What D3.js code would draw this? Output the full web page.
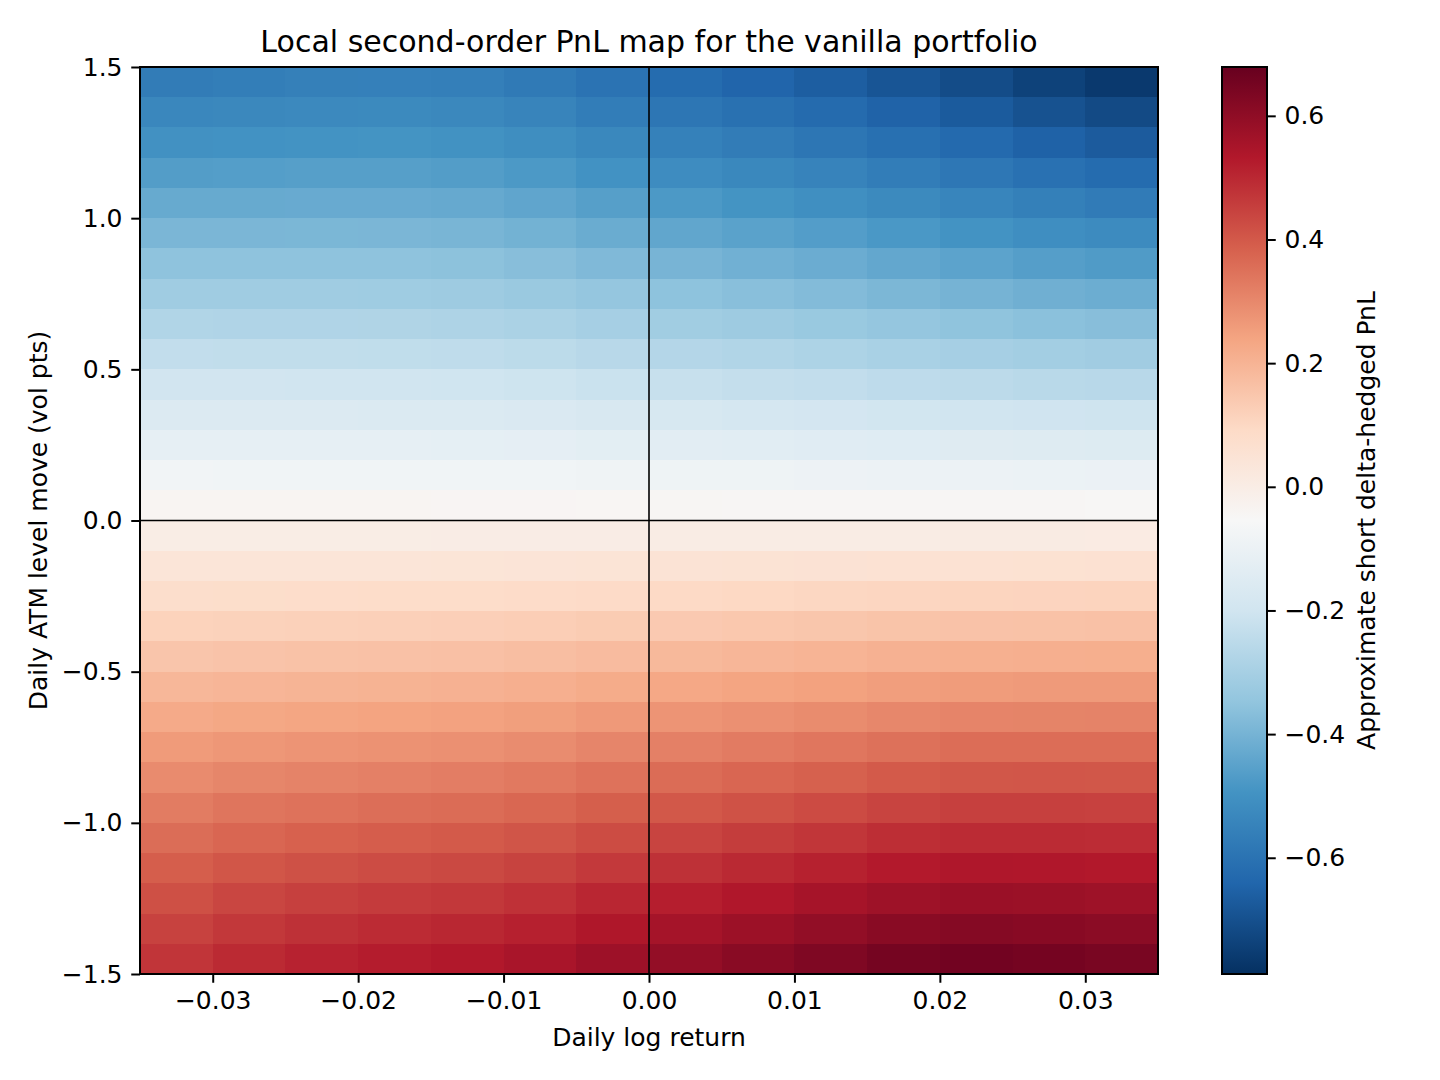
<!DOCTYPE html>
<html>
<head>
<meta charset="utf-8">
<script src="https://cdn.jsdelivr.net/npm/d3@7"></script>
<style>
    body { margin: 0; background: #fff; }
    svg { font-family: "DejaVu Sans", sans-serif; }
</style>
</head>
<body>
<svg></svg>
<script>
// Cell centres of the PnL grid.
var xCenters = [-0.0325, -0.0275, -0.0225, -0.0175, -0.0125, -0.0075, -0.0025,
                0.0025, 0.0075, 0.0125, 0.0175, 0.0225, 0.0275, 0.0325];
var yCenters = [1.45, 1.35, 1.25, 1.15, 1.05, 0.95, 0.85, 0.75, 0.65, 0.55,
                0.45, 0.35, 0.25, 0.15, 0.05, -0.05, -0.15, -0.25, -0.35, -0.45,
                -0.55, -0.65, -0.75, -0.85, -0.95, -1.05, -1.15, -1.25, -1.35, -1.45];
var cellWidth = 0.005;
var cellHeight = 0.1;

// Approximate short delta-hedged PnL, one row per yCenters entry (top to bottom).
var pnlRows = [
    [-0.569,-0.562,-0.557,-0.555,-0.560,-0.575,-0.599,-0.623,-0.643,-0.662,-0.687,-0.711,-0.739,-0.763],
    [-0.535,-0.530,-0.526,-0.525,-0.530,-0.544,-0.567,-0.589,-0.607,-0.626,-0.649,-0.671,-0.696,-0.717],
    [-0.500,-0.497,-0.494,-0.493,-0.498,-0.511,-0.532,-0.553,-0.570,-0.588,-0.609,-0.629,-0.651,-0.670],
    [-0.465,-0.463,-0.460,-0.460,-0.465,-0.477,-0.497,-0.516,-0.532,-0.548,-0.567,-0.585,-0.606,-0.622],
    [-0.428,-0.427,-0.426,-0.426,-0.430,-0.441,-0.460,-0.477,-0.492,-0.507,-0.525,-0.541,-0.558,-0.572],
    [-0.391,-0.391,-0.390,-0.391,-0.395,-0.405,-0.422,-0.438,-0.451,-0.464,-0.481,-0.495,-0.510,-0.522],
    [-0.353,-0.354,-0.353,-0.354,-0.358,-0.367,-0.382,-0.397,-0.409,-0.421,-0.435,-0.448,-0.461,-0.471],
    [-0.315,-0.316,-0.316,-0.317,-0.320,-0.329,-0.342,-0.355,-0.365,-0.376,-0.389,-0.400,-0.411,-0.419],
    [-0.276,-0.278,-0.278,-0.279,-0.282,-0.289,-0.301,-0.312,-0.321,-0.331,-0.342,-0.351,-0.360,-0.367],
    [-0.237,-0.239,-0.239,-0.240,-0.243,-0.249,-0.259,-0.268,-0.276,-0.284,-0.294,-0.301,-0.308,-0.314],
    [-0.198,-0.199,-0.200,-0.201,-0.203,-0.208,-0.217,-0.224,-0.231,-0.237,-0.245,-0.251,-0.256,-0.260],
    [-0.158,-0.160,-0.160,-0.161,-0.163,-0.167,-0.174,-0.179,-0.184,-0.190,-0.196,-0.200,-0.204,-0.207],
    [-0.119,-0.120,-0.121,-0.121,-0.123,-0.125,-0.130,-0.134,-0.138,-0.142,-0.146,-0.149,-0.152,-0.153],
    [-0.079,-0.080,-0.080,-0.081,-0.082,-0.083,-0.086,-0.089,-0.091,-0.093,-0.096,-0.097,-0.099,-0.100],
    [-0.040,-0.040,-0.040,-0.040,-0.041,-0.041,-0.042,-0.043,-0.044,-0.044,-0.045,-0.046,-0.046,-0.047],
    [0.000,0.000,0.000,0.000,0.001,0.001,0.002,0.003,0.004,0.004,0.005,0.006,0.006,0.007],
    [0.039,0.040,0.040,0.041,0.042,0.044,0.046,0.049,0.051,0.053,0.056,0.057,0.058,0.059],
    [0.077,0.079,0.080,0.082,0.083,0.086,0.090,0.094,0.098,0.102,0.106,0.109,0.110,0.111],
    [0.115,0.118,0.120,0.122,0.124,0.128,0.134,0.140,0.145,0.150,0.156,0.159,0.161,0.162],
    [0.152,0.157,0.160,0.162,0.165,0.170,0.178,0.185,0.192,0.198,0.205,0.210,0.212,0.213],
    [0.189,0.195,0.199,0.202,0.205,0.211,0.221,0.230,0.238,0.246,0.254,0.259,0.262,0.262],
    [0.225,0.232,0.237,0.241,0.245,0.252,0.264,0.274,0.283,0.293,0.303,0.308,0.310,0.311],
    [0.260,0.269,0.275,0.280,0.284,0.292,0.306,0.317,0.328,0.339,0.350,0.357,0.358,0.358],
    [0.294,0.305,0.312,0.317,0.323,0.332,0.347,0.360,0.372,0.384,0.397,0.404,0.405,0.404],
    [0.327,0.340,0.348,0.355,0.361,0.371,0.388,0.402,0.415,0.428,0.443,0.450,0.450,0.448],
    [0.359,0.373,0.383,0.391,0.398,0.409,0.427,0.442,0.457,0.472,0.487,0.494,0.494,0.491],
    [0.390,0.406,0.417,0.426,0.433,0.445,0.465,0.482,0.498,0.514,0.530,0.538,0.536,0.532],
    [0.419,0.438,0.450,0.460,0.468,0.481,0.503,0.520,0.537,0.555,0.572,0.580,0.577,0.571],
    [0.446,0.468,0.482,0.493,0.502,0.516,0.539,0.557,0.576,0.594,0.613,0.620,0.615,0.608],
    [0.473,0.496,0.512,0.525,0.534,0.549,0.573,0.593,0.612,0.632,0.651,0.658,0.652,0.643]
];

// Axis and colour-bar extents and ticks.
var xDomain = [-0.035, 0.035];
var yDomain = [-1.5, 1.5];
var xTicks = [-0.03, -0.02, -0.01, 0.00, 0.01, 0.02, 0.03];
var yTicks = [-1.5, -1.0, -0.5, 0.0, 0.5, 1.0, 1.5];
var colorDomain = [-0.788, 0.679];
var colorTicks = [-0.6, -0.4, -0.2, 0.0, 0.2, 0.4, 0.6];

// RdBu_r colour stops (blue -> red).
var rdbuStops = ['#053061', '#2166ac', '#4393c3', '#92c5de', '#d1e5f0', '#f7f7f7',
                 '#fddbc7', '#f4a582', '#d6604d', '#b2182b', '#67001f'];

//==========================================================================
// Layout.

var margin = { top: 67, left: 140 };
var width = 1018;
var height = 907;

var svg = d3.select('svg')
    .attr('width', 1440)
    .attr('height', 1080)
;

var chart = svg.append('g')
    .attr('transform', 'translate(' + margin.left + ',' + margin.top + ')')
;

var xScale = d3.scaleLinear().domain(xDomain).range([0, width]);
var yScale = d3.scaleLinear().domain(yDomain).range([height, 0]);

var colorScale = d3.scaleLinear()
    .domain(d3.range(rdbuStops.length).map(function(i) {
        return colorDomain[0] + i * (colorDomain[1] - colorDomain[0]) / (rdbuStops.length - 1);
    }))
    .range(rdbuStops)
    .interpolate(d3.interpolateRgb)
    .clamp(true)
;

//==========================================================================
// Heatmap cells.

var cells = [];
pnlRows.forEach(function(row, i) {
    row.forEach(function(v, j) {
        cells.push({ x: xCenters[j], y: yCenters[i], value: v });
    });
});

chart.append('g')
    .attr('shape-rendering', 'crispEdges')
    .selectAll('rect')
    .data(cells)
    .enter()
    .append('rect')
    .attr('x', function(d) { return xScale(d.x - cellWidth / 2); })
    .attr('y', function(d) { return yScale(d.y + cellHeight / 2); })
    .attr('width', function(d) { return xScale(d.x + cellWidth / 2) - xScale(d.x - cellWidth / 2) + 0.5; })
    .attr('height', function(d) { return yScale(d.y - cellHeight / 2) - yScale(d.y + cellHeight / 2) + 0.5; })
    .style('fill', function(d) { return colorScale(d.value); })
;

// Zero lines.
chart.append('line')
    .attr('x1', 0).attr('x2', width)
    .attr('y1', yScale(0)).attr('y2', yScale(0))
    .style('stroke', '#000').style('stroke-width', 1.6)
;
chart.append('line')
    .attr('x1', xScale(0)).attr('x2', xScale(0))
    .attr('y1', 0).attr('y2', height)
    .style('stroke', '#000').style('stroke-width', 1.6)
;

//==========================================================================
// Axes.

var tickFont = 25;

var xAxis = chart.append('g')
    .attr('transform', 'translate(0,' + height + ')')
    .call(d3.axisBottom(xScale).tickValues(xTicks).tickFormat(d3.format('.2f'))
        .tickSizeInner(8.75).tickSizeOuter(0).tickPadding(8.75))
;
var yAxis = chart.append('g')
    .call(d3.axisLeft(yScale).tickValues(yTicks).tickFormat(d3.format('.1f'))
        .tickSizeInner(8.75).tickSizeOuter(0).tickPadding(8.75))
;
[xAxis, yAxis].forEach(function(ax) {
    ax.select('.domain').remove();
    ax.selectAll('line').style('stroke', '#000').style('stroke-width', 2);
    ax.selectAll('text').style('font-size', tickFont + 'px').style('fill', '#000')
        .style('font-family', '"DejaVu Sans", sans-serif');
});

chart.append('rect')
    .attr('width', width).attr('height', height)
    .style('fill', 'none').style('stroke', '#000').style('stroke-width', 2)
;

chart.append('text')
    .attr('x', width / 2).attr('y', -15)
    .attr('text-anchor', 'middle')
    .style('font-size', '30px')
    .text('Local second-order PnL map for the vanilla portfolio')
;
chart.append('text')
    .attr('x', width / 2).attr('y', height + 72)
    .attr('text-anchor', 'middle')
    .style('font-size', tickFont + 'px')
    .text('Daily log return')
;
chart.append('text')
    .attr('transform', 'translate(' + (-93) + ',' + (height / 2) + ') rotate(-90)')
    .attr('text-anchor', 'middle')
    .style('font-size', tickFont + 'px')
    .text('Daily ATM level move (vol pts)')
;

//==========================================================================
// Colour bar.

var cbX = 1222, cbW = 45;
var cbScale = d3.scaleLinear().domain(colorDomain).range([margin.top + height, margin.top]);

var grad = svg.append('defs').append('linearGradient')
    .attr('id', 'cbgrad')
    .attr('x1', 0).attr('y1', 1).attr('x2', 0).attr('y2', 0)
;
grad.selectAll('stop')
    .data(rdbuStops)
    .enter()
    .append('stop')
    .attr('offset', function(d, i) { return i / (rdbuStops.length - 1); })
    .attr('stop-color', function(d) { return d; })
;

svg.append('rect')
    .attr('x', cbX).attr('y', margin.top)
    .attr('width', cbW).attr('height', height)
    .style('fill', 'url(#cbgrad)')
    .style('stroke', '#000').style('stroke-width', 2)
;

var cbAxis = svg.append('g')
    .attr('transform', 'translate(' + (cbX + cbW) + ',0)')
    .call(d3.axisRight(cbScale).tickValues(colorTicks).tickFormat(d3.format('.1f'))
        .tickSizeInner(8.75).tickSizeOuter(0).tickPadding(8.75))
;
cbAxis.select('.domain').remove();
cbAxis.selectAll('line').style('stroke', '#000').style('stroke-width', 2);
cbAxis.selectAll('text').style('font-size', tickFont + 'px').style('fill', '#000')
    .style('font-family', '"DejaVu Sans", sans-serif');

svg.append('text')
    .attr('transform', 'translate(' + 1375 + ',' + (margin.top + height / 2) + ') rotate(-90)')
    .attr('text-anchor', 'middle')
    .style('font-size', tickFont + 'px')
    .text('Approximate short delta-hedged PnL')
;
</script>
</body>
</html>
